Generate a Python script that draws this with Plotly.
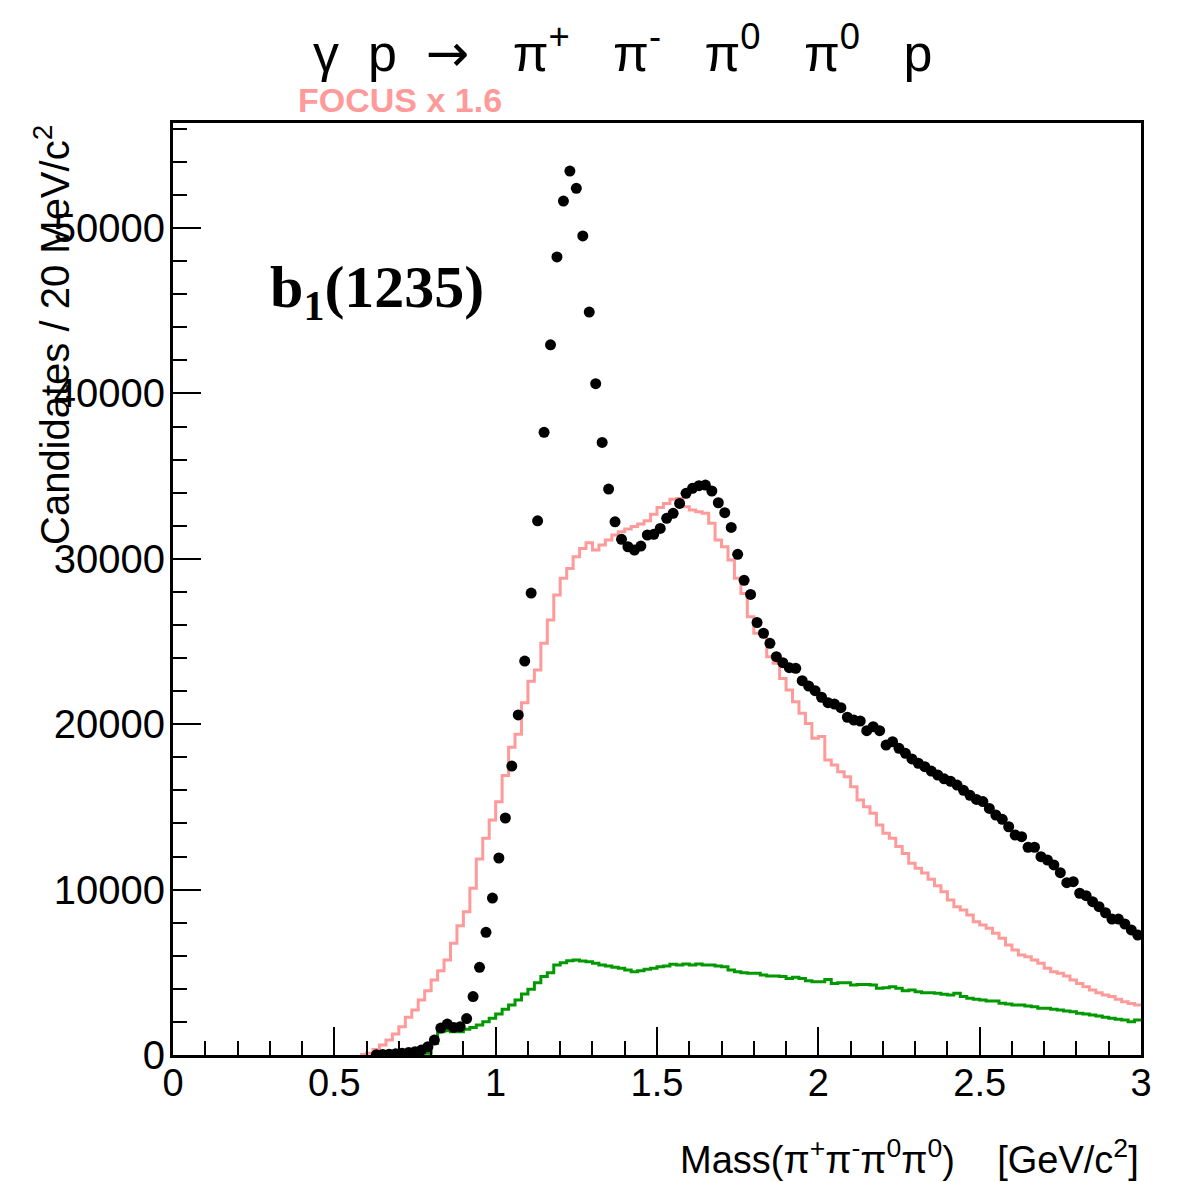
import numpy as np
import plotly.graph_objects as go

BIN_W = 0.02  # GeV/c^2

# Data (black points), first bin centre and counts
data_first_center = 0.63
data_counts = [10, 30, 50, 80, 100, 150, 200, 300, 500, 900,
               1630, 1870, 1670, 1710, 2200, 3530, 5300, 7420, 9490, 11910,
               14330, 17470, 20560, 23820, 27930, 32300, 37650, 42940, 48250, 51630,
               53446, 52400, 49520, 44920, 40590, 37040, 34220, 32240, 31180, 30730,
               30530, 30770, 31440, 31480, 31840, 32450, 32750, 33350, 33960, 34260,
               34420, 34460, 34100, 33390, 32790, 31900, 30270, 28700, 27850, 26150,
               25500, 24890, 24080, 23720, 23420, 23380, 22630, 22310, 22030, 21630,
               21300, 21220, 21000, 20420, 20250, 20190, 19610, 19850, 19610, 18740,
               18940, 18540, 18240, 17900, 17640, 17430, 17170, 16930, 16700, 16550,
               16320, 16000, 15700, 15450, 15320, 14910, 14510, 14250, 13800, 13300,
               13200, 12560, 12560, 11990, 11790, 11490, 11020, 10420, 10480, 9780,
               9630, 9270, 8970, 8600, 8220, 8220, 7920, 7560, 7250]

# FOCUS x 1.6 (pink histogram), first bin lower edge and contents
focus_first_edge = 0.58
focus_counts = [30, 100, 340, 600, 900, 1270, 1710, 2280, 2720, 3330,
                3890, 4530, 5100, 5740, 6750, 7820, 8660, 10080, 11850, 13100,
                14210, 15310, 16900, 18600, 19400, 21300, 22600, 23280, 24890, 26300,
                27810, 28820, 29420, 30130, 30630, 30970, 30530, 30830, 31140, 31440,
                31640, 31800, 31950, 32100, 32300, 32700, 33100, 33350, 33600, 33650,
                33150, 32950, 32850, 32750, 32150, 31140, 30730, 29930, 28820, 27910,
                26500, 25500, 25600, 24080, 23680, 22770, 22070, 21360, 20660, 20050,
                19150, 19250, 17840, 17540, 17130, 16830, 16220, 15420, 15010, 14610,
                13910, 13400, 13100, 12600, 12190, 11590, 11290, 11000, 10630, 10230,
                9870, 9370, 8970, 8770, 8460, 8060, 7860, 7660, 7360, 7060,
                6650, 6350, 6050, 5940, 5740, 5540, 5240, 5040, 4940, 4780,
                4530, 4330, 4130, 3930, 3770, 3630, 3530, 3370, 3220, 3120, 3020]

# Green histogram, first bin lower edge and contents
green_first_edge = 0.78
green_counts = [100, 700, 1410, 1470, 1410, 1410, 1550, 1670, 1810, 2010,
                2220, 2480, 2760, 3020, 3330, 3690, 3970, 4370, 4740, 4980,
                5440, 5580, 5700, 5740, 5680, 5640, 5540, 5440, 5380, 5300,
                5240, 5140, 5040, 5100, 5180, 5240, 5340, 5380, 5480, 5440,
                5500, 5440, 5500, 5440, 5440, 5380, 5340, 5140, 5040, 4980,
                4940, 4940, 4840, 4780, 4780, 4740, 4630, 4700, 4630, 4490,
                4430, 4430, 4570, 4330, 4370, 4370, 4230, 4270, 4270, 4230,
                4030, 4070, 4130, 4030, 3890, 3930, 3830, 3770, 3770, 3730,
                3670, 3630, 3730, 3530, 3430, 3370, 3330, 3270, 3270, 3130,
                3090, 3020, 3020, 2960, 2920, 2820, 2820, 2760, 2720, 2660,
                2620, 2520, 2480, 2420, 2360, 2280, 2220, 2160, 2120, 2010, 2120]

x_tickvals = [0, 0.5, 1, 1.5, 2, 2.5, 3]
x_ticktext = ["0", "0.5", "1", "1.5", "2", "2.5", "3"]
y_tickvals = [0, 10000, 20000, 30000, 40000, 50000]
y_ticktext = ["0", "10000", "20000", "30000", "40000", "50000"]

PINK = "#ff9a9a"
GREEN = "#009a00"
FONT = "Liberation Sans, Arial, Helvetica, sans-serif"
NB = "\u00a0"


def step_xy(first_edge, counts):
    n = len(counts)
    edges = first_edge + BIN_W * np.arange(n + 1)
    ys = list(counts) + [counts[-1]]
    return edges, ys


fig = go.Figure()

fx, fy = step_xy(focus_first_edge, focus_counts)
fig.add_trace(go.Scatter(x=fx, y=fy, mode="lines", line=dict(color=PINK, width=3, shape="hv"),
                         showlegend=False, hoverinfo="skip"))
gx, gy = step_xy(green_first_edge, green_counts)
fig.add_trace(go.Scatter(x=gx, y=gy, mode="lines", line=dict(color=GREEN, width=3, shape="hv"),
                         showlegend=False, hoverinfo="skip"))
dx = data_first_center + BIN_W * np.arange(len(data_counts))
fig.add_trace(go.Scatter(x=dx, y=data_counts, mode="markers",
                         marker=dict(color="black", size=11, symbol="circle"),
                         showlegend=False))

L, R, T, B = 173, 40, 123, 127
W, H = 1181, 1182
pw, ph = W - L - R, H - T - B


def px2paper(px, py):
    return (px - L) / pw, (H - B - py) / ph


fig.update_layout(
    width=W, height=H,
    margin=dict(l=L, r=R, t=T, b=B, pad=0),
    paper_bgcolor="white", plot_bgcolor="white",
    font=dict(family=FONT, color="black", size=36),
    xaxis=dict(range=[0, 3], showgrid=False, zeroline=False,
               showline=True, linecolor="black", linewidth=3, mirror=True,
               ticks="inside", ticklen=28, tickwidth=2, tickcolor="black",
               tickvals=x_tickvals, ticktext=x_ticktext, ticklabelstandoff=-8,
               tickfont=dict(size=38, family=FONT),
               minor=dict(ticks="inside", ticklen=14, tickwidth=2, tickcolor="black", dtick=0.1, showgrid=False)),
    yaxis=dict(range=[0, 56350], showgrid=False, zeroline=False,
               showline=True, linecolor="black", linewidth=3, mirror=True,
               ticks="inside", ticklen=28, tickwidth=2, tickcolor="black",
               tickvals=y_tickvals, ticktext=y_ticktext, ticklabelstandoff=-3,
               tickfont=dict(size=40, family=FONT),
               minor=dict(ticks="inside", ticklen=14, tickwidth=2, tickcolor="black", dtick=2000, showgrid=False)),
)

sp = NB * 3
arrow = "<span style='font-family:DejaVu Sans'>→</span>"
title_text = ("γ" + NB * 2 + "p" + NB * 2 + arrow + sp + "π<sup>+</sup>" + sp + "π<sup>-</sup>" + sp +
              "π<sup>0</sup>" + sp + "π<sup>0</sup>" + sp + "p")

ann = []
x0, y0 = px2paper(622, 50)
ann.append(dict(x=x0, y=y0, xref="paper", yref="paper", showarrow=False,
                text=title_text,
                font=dict(size=52, family=FONT, color="black"), xanchor="center", yanchor="middle"))
x0, y0 = px2paper(296, 100)
ann.append(dict(x=x0, y=y0, xref="paper", yref="paper", showarrow=False,
                text="<b>FOCUS x 1.6</b>",
                font=dict(size=34, family=FONT, color=PINK), xanchor="left", yanchor="middle"))
x0, y0 = px2paper(268, 292)
ann.append(dict(x=x0, y=y0, xref="paper", yref="paper", showarrow=False,
                text="<b>b<sub>1</sub>(1235)</b>",
                font=dict(size=60, family="Liberation Serif, Times New Roman, serif", color="black"),
                xanchor="left", yanchor="middle"))
x0, y0 = px2paper(52, 123)
ann.append(dict(x=x0, y=y0, xref="paper", yref="paper", showarrow=False, textangle=-90,
                text="Candidates / 20 MeV/c<sup>2</sup>",
                font=dict(size=40, family=FONT, color="black"), xanchor="center", yanchor="top"))
x0, y0 = px2paper(1141, 1157)
ann.append(dict(x=x0, y=y0, xref="paper", yref="paper", showarrow=False,
                text="Mass(π<sup>+</sup>π<sup>-</sup>π<sup>0</sup>π<sup>0</sup>)" + NB * 4 + "[GeV/c<sup>2</sup>]",
                font=dict(size=38, family=FONT, color="black"), xanchor="right", yanchor="middle"))
fig.update_layout(annotations=ann)

fig.write_html("out.html")
